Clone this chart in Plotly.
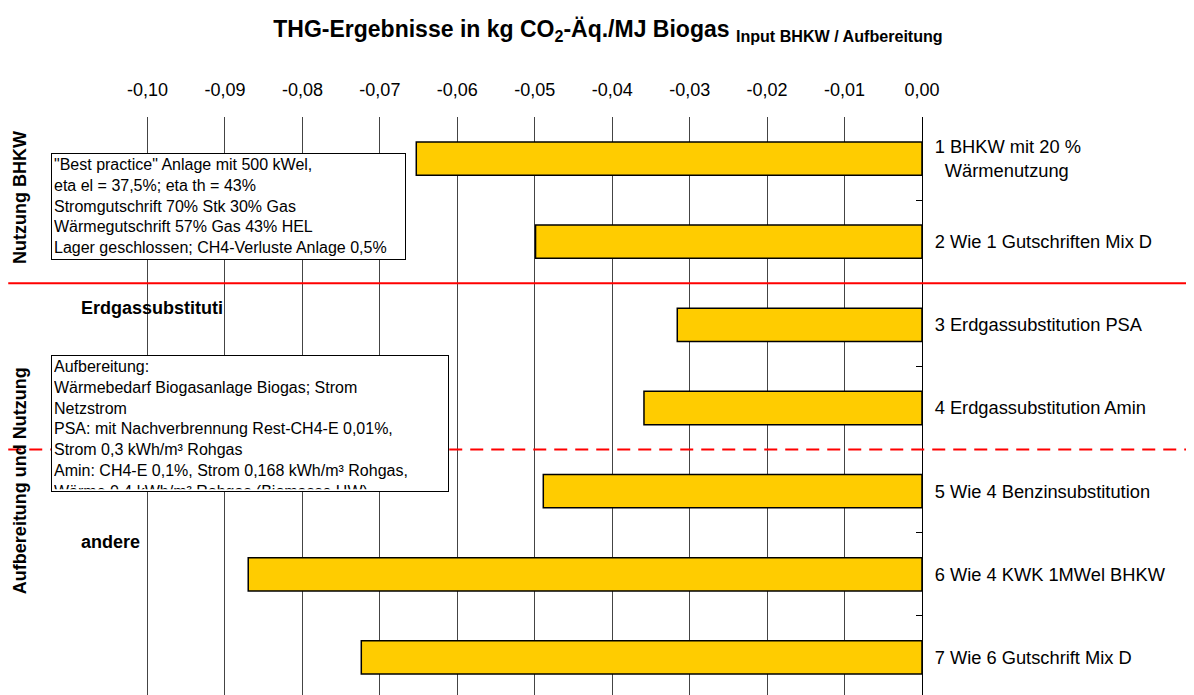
import plotly.graph_objects as go

# ---- data ----
categories = [
    "1 BHKW mit 20 %<br>\u00a0\u00a0Wärmenutzung",
    "2 Wie 1 Gutschriften Mix D",
    "3 Erdgassubstitution PSA",
    "4 Erdgassubstitution Amin",
    "5 Wie 4 Benzinsubstitution",
    "6 Wie 4 KWK 1MWel BHKW",
    "7 Wie 6 Gutschrift Mix D",
]
values = [-0.0653, -0.0499, -0.0316, -0.0359, -0.0489, -0.0870, -0.0724]
tick_vals = [-0.10, -0.09, -0.08, -0.07, -0.06, -0.05, -0.04, -0.03, -0.02, -0.01, 0.00]
tick_text = ["-0,10", "-0,09", "-0,08", "-0,07", "-0,06", "-0,05", "-0,04",
             "-0,03", "-0,02", "-0,01", "0,00"]
group_titles = ["Nutzung BHKW", "Aufbereitung und Nutzung"]
section_labels = ["Erdgassubstituti", "andere"]
box1_text = ("\"Best practice\" Anlage mit 500 kWel,<br>"
             "eta el = 37,5%; eta th = 43%<br>"
             "Stromgutschrift 70% Stk 30% Gas<br>"
             "Wärmegutschrift 57% Gas 43% HEL<br>"
             "Lager geschlossen; CH4-Verluste Anlage 0,5%")
box2_text = ("Aufbereitung:<br>"
             "Wärmebedarf Biogasanlage Biogas; Strom<br>"
             "Netzstrom<br>"
             "PSA: mit Nachverbrennung Rest-CH4-E 0,01%,<br>"
             "Strom 0,3 kWh/m³ Rohgas<br>"
             "Amin: CH4-E 0,1%, Strom 0,168 kWh/m³ Rohgas,<br>"
             "Wärme 0,4 kWh/m³ Rohgas (Biomasse HW)")
separators_y = [1.5, 3.5]

FONT = "Liberation Sans, Arial, sans-serif"

# page body offset (default 8px body margin)
OX, OY = 8, 8
W, H = 1194 - OX, 695 - OY
# plot area in screen coordinates
SL, SR, ST, SB = 145.75, 921.7, 117.3, 695
L, T = SL - OX, ST - OY
R, B = 1194 - SR, 0
PW, PH = SR - SL, SB - ST


def px(xs):
    return (xs - SL) / PW


def py(ys):
    return (SB - ys) / PH


fig = go.Figure()
fig.add_trace(go.Bar(
    x=values, y=categories, orientation="h",
    marker=dict(color="#FFCC00", line=dict(color="#000000", width=1.5)),
    width=0.4, hoverinfo="x+y",
))

fig.update_layout(
    width=W, height=H,
    margin=dict(l=L, r=R, t=T, b=B, pad=0),
    paper_bgcolor="white", plot_bgcolor="white",
    showlegend=False,
    font=dict(family=FONT, size=18, color="black"),
    title=dict(
        text="<b>THG-Ergebnisse in kg CO<sub>2</sub>-Äq./MJ Biogas <sub>Input BHKW / Aufbereitung</sub></b>",
        font=dict(family=FONT, size=23, color="black"),
        x=(608 - OX) / W, xref="container", xanchor="center",
        y=1 - (29 - OY) / H, yref="container", yanchor="middle",
    ),
    xaxis=dict(
        side="top", range=[-0.1002, 0],
        tickvals=tick_vals, ticktext=tick_text,
        showgrid=True, gridcolor="#444444", gridwidth=1,
        zeroline=False, showline=False, ticks="",
        ticklabelstandoff=16,
        tickfont=dict(family=FONT, size=18, color="black"),
        fixedrange=True,
    ),
    yaxis=dict(
        side="right", type="category",
        range=[6 + 0.5 - 4 / 83.1, -0.5],
        showgrid=False, zeroline=False,
        showline=True, linecolor="black", linewidth=1,
        ticks="inside", tickson="boundaries", ticklen=6, tickcolor="black",
        ticklabelstandoff=8,
        tickfont=dict(family=FONT, size=18.3, color="black"),
        fixedrange=True,
    ),
)

# separator lines
for i, yv in enumerate(separators_y):
    fig.add_shape(type="line", xref="paper", yref="y",
                  x0=px(8), x1=px(1194), y0=yv, y1=yv,
                  line=dict(color="#FF0000", width=2,
                            dash="solid" if i == 0 else "13px,8px"),
                  layer="above")

# group titles (rotated)
fig.add_annotation(text="<b>" + group_titles[0] + "</b>", xref="paper", yref="paper",
                   x=px(20), y=py(198), textangle=-90, showarrow=False,
                   font=dict(family=FONT, size=18, color="black"),
                   xanchor="center", yanchor="middle")
fig.add_annotation(text="<b>" + group_titles[1] + "</b>", xref="paper", yref="paper",
                   x=px(20), y=py(481), textangle=-90, showarrow=False,
                   font=dict(family=FONT, size=18, color="black"),
                   xanchor="center", yanchor="middle")

# section labels
fig.add_annotation(text="<b>" + section_labels[0] + "</b>", xref="paper", yref="paper",
                   x=px(79), y=py(308), showarrow=False,
                   font=dict(family=FONT, size=18, color="black"),
                   xanchor="left", yanchor="middle")
fig.add_annotation(text="<b>" + section_labels[1] + "</b>", xref="paper", yref="paper",
                   x=px(79), y=py(542), showarrow=False,
                   font=dict(family=FONT, size=18, color="black"),
                   xanchor="left", yanchor="middle")

# text boxes
fig.add_annotation(text=box1_text, xref="paper", yref="paper",
                   x=px(50.7), y=py(153.3), showarrow=False,
                   xanchor="left", yanchor="top", align="left", valign="top",
                   width=355 - 6, height=106.7 - 6,
                   bgcolor="white", bordercolor="black", borderwidth=1, borderpad=2,
                   font=dict(family=FONT, size=16, color="black"))
fig.add_annotation(text=box2_text, xref="paper", yref="paper",
                   x=px(50.7), y=py(355), showarrow=False,
                   xanchor="left", yanchor="top", align="left", valign="top",
                   width=397.6 - 6, height=137.3 - 6,
                   bgcolor="white", bordercolor="black", borderwidth=1, borderpad=2,
                   font=dict(family=FONT, size=16, color="black"))

fig.write_html("out.html")
